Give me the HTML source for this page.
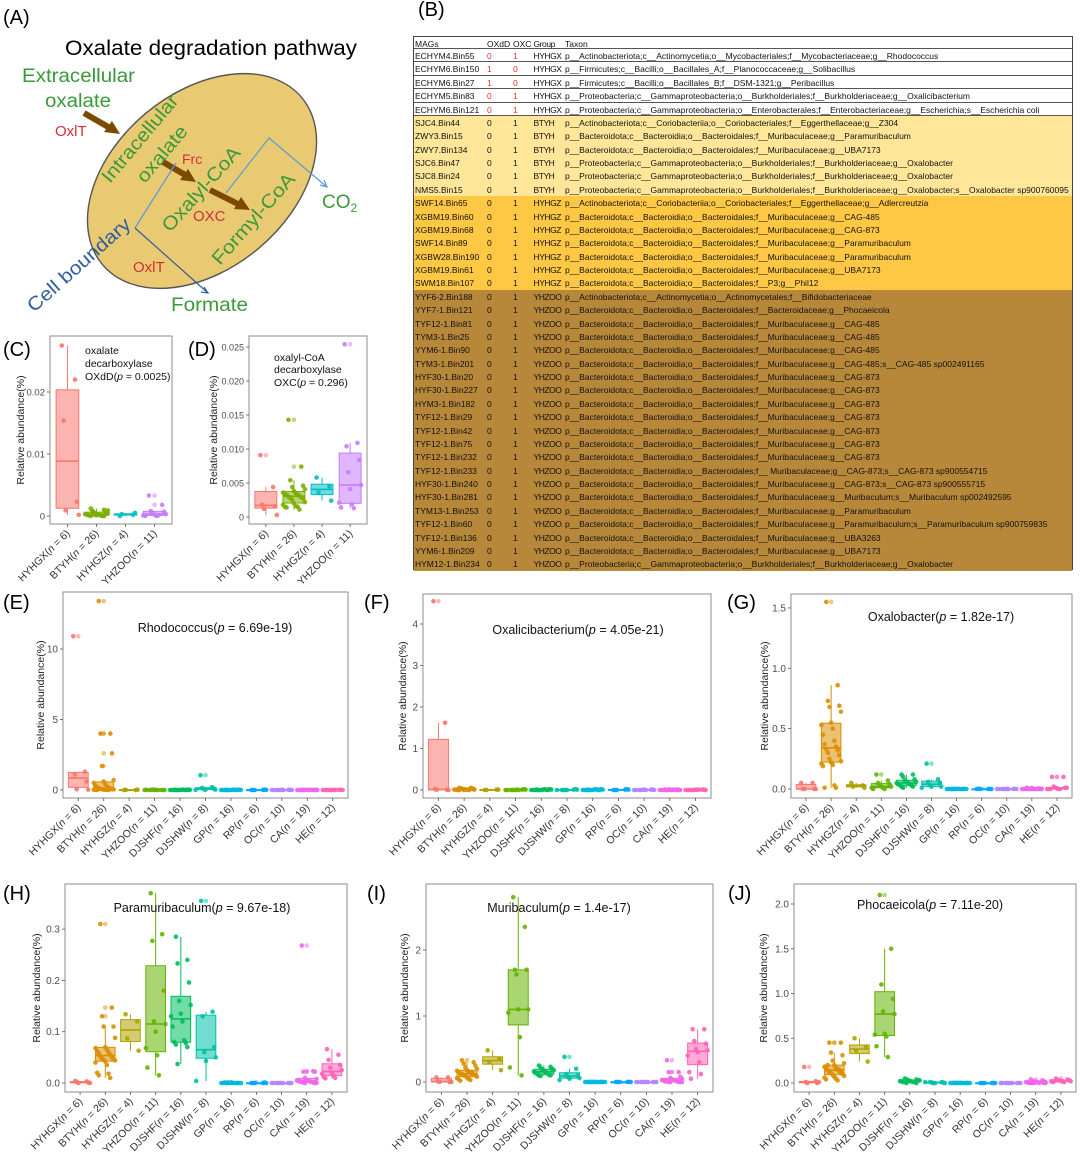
<!DOCTYPE html>
<html><head><meta charset="utf-8">
<style>
body{margin:0;background:#fff;font-family:"Liberation Sans",Arial,sans-serif;}
#root{position:relative;width:1080px;height:1168px;overflow:hidden;background:#fff;}
.plab{position:absolute;font-size:20px;color:#000;}
#tbl{position:absolute;left:413px;top:36px;width:660px;height:534px;border:1px solid #444;box-sizing:border-box;font-size:8.5px;color:#111;}
.r{position:relative;height:13.38px;white-space:nowrap;box-sizing:border-box;}
.r span{position:absolute;top:2px;line-height:10px;}
.c1{left:1px}.c2{left:73px}.c3{left:99px}.c4{left:119.5px;letter-spacing:-0.45px}.c5{left:151px}
.h{height:12px;border-bottom:1px solid #555;background:#fff}
.w{background:#fff;border-bottom:1px solid #555}
.w .c2,.w .c3{color:#f03030}
.y1{background:#FFE699}.y2{background:#FFC844}.y3{background:#B8883A}
.vl{position:absolute;top:0;width:1px;height:78px;background:#666;}
svg text{font-family:"Liberation Sans",Arial,sans-serif;}
</style></head><body>
<div id="root">

<svg id="diagA" width="412" height="330" style="position:absolute;left:0;top:0">
  <text x="3" y="24" font-size="20">(A)</text>
  <text x="65" y="55" font-size="21" textLength="292" lengthAdjust="spacingAndGlyphs">Oxalate degradation pathway</text>
  <ellipse cx="202" cy="181" rx="130" ry="88" transform="rotate(-40 202 181)" fill="#E9CA72" stroke="#555" stroke-width="1.4"/>
  <text x="22" y="82" font-size="19" fill="#3a9a3a" textLength="113" lengthAdjust="spacingAndGlyphs">Extracellular</text>
  <text x="45" y="107" font-size="19" fill="#3a9a3a" textLength="66" lengthAdjust="spacingAndGlyphs">oxalate</text>
  <text x="55" y="136" font-size="15" fill="#d0303a">OxlT</text>
  <g stroke="#7B4A00" stroke-width="6">
    <line x1="84" y1="113" x2="110" y2="128"/>
    <line x1="163" y1="162" x2="187" y2="176"/>
    <line x1="210" y1="190" x2="240" y2="205"/>
  </g>
  <g fill="#7B4A00">
    <polygon points="120,134 104,132 112,121"/>
    <polygon points="196,182 180,180 188,169"/>
    <polygon points="250,210 234,209 241,197"/>
  </g>
  <g fill="none" stroke-width="1.2">
    <polyline points="176,163 135,228" stroke="#5b9bd5"/>
    <polyline points="135,228 208,293" stroke="#2e5f99"/>
    <polyline points="204,287 208,293 201,292" stroke="#2e5f99"/>
    <polyline points="226,193 269,138 327,187" stroke="#5b9bd5"/>
    <polyline points="320,185 327,187 324,180" stroke="#5b9bd5"/>
  </g>
  <text x="110" y="184" font-size="19" fill="#3a9a3a" transform="rotate(-50 110 184)" textLength="108" lengthAdjust="spacingAndGlyphs">Intracellular</text>
  <text x="145" y="184" font-size="19" fill="#3a9a3a" transform="rotate(-50 145 184)" textLength="68" lengthAdjust="spacingAndGlyphs">oxalate</text>
  <text x="182" y="164" font-size="14" fill="#d0303a">Frc</text>
  <text x="170" y="233" font-size="19" fill="#3a9a3a" transform="rotate(-48 170 233)" textLength="107" lengthAdjust="spacingAndGlyphs">Oxalyl-CoA</text>
  <text x="193" y="221" font-size="15" fill="#d0303a">OXC</text>
  <text x="220" y="266" font-size="19" fill="#3a9a3a" transform="rotate(-48.5 220 266)" textLength="115" lengthAdjust="spacingAndGlyphs">Formyl-CoA</text>
  <text x="34" y="313" font-size="19" fill="#2e5f99" transform="rotate(-41.6 34 313)" textLength="131" lengthAdjust="spacingAndGlyphs">Cell boundary</text>
  <text x="133" y="272" font-size="15" fill="#d0303a">OxlT</text>
  <text x="171" y="311" font-size="19" fill="#3a9a3a" textLength="77" lengthAdjust="spacingAndGlyphs">Formate</text>
  <text x="322" y="208" font-size="19" fill="#3a9a3a">CO<tspan font-size="12" dy="4">2</tspan></text>
</svg>

<div class="plab" style="left:418px;top:-1px">(B)</div>
<div id="tbl">
 <div class="vl" style="left:71px"></div><div class="vl" style="left:97px"></div><div class="vl" style="left:118px"></div><div class="vl" style="left:149px"></div>
 <div class="r h"><span class="c1">MAGs</span><span class="c2">OXdD</span><span class="c3">OXC</span><span class="c4">Group</span><span class="c5">Taxon</span></div>
 <div class="r w"><span class="c1">ECHYM4.Bin55</span><span class="c2">0</span><span class="c3">1</span><span class="c4">HYHGX</span><span class="c5">p__Actinobacteriota;c__Actinomycetia;o__Mycobacteriales;f__Mycobacteriaceae;g__Rhodococcus</span></div>
 <div class="r w"><span class="c1">ECHYM6.Bin150</span><span class="c2">1</span><span class="c3">0</span><span class="c4">HYHGX</span><span class="c5">p__Firmicutes;c__Bacilli;o__Bacillales_A;f__Planococcaceae;g__Solibacillus</span></div>
 <div class="r w"><span class="c1">ECHYM6.Bin27</span><span class="c2">1</span><span class="c3">0</span><span class="c4">HYHGX</span><span class="c5">p__Firmicutes;c__Bacilli;o__Bacillales_B;f__DSM-1321;g__Peribacillus</span></div>
 <div class="r w"><span class="c1">ECHYM5.Bin83</span><span class="c2">0</span><span class="c3">1</span><span class="c4">HYHGX</span><span class="c5">p__Proteobacteria;c__Gammaproteobacteria;o__Burkholderiales;f__Burkholderiaceae;g__Oxalicibacterium</span></div>
 <div class="r w"><span class="c1">ECHYM6.Bin121</span><span class="c2">0</span><span class="c3">1</span><span class="c4">HYHGX</span><span class="c5">p__Proteobacteria;c__Gammaproteobacteria;o__Enterobacterales;f__Enterobacteriaceae;g__Escherichia;s__Escherichia coli</span></div>
 <div class="r y1"><span class="c1">SJC4.Bin44</span><span class="c2">0</span><span class="c3">1</span><span class="c4">BTYH</span><span class="c5">p__Actinobacteriota;c__Coriobacteriia;o__Coriobacteriales;f__Eggerthellaceae;g__Z304</span></div>
 <div class="r y1"><span class="c1">ZWY3.Bin15</span><span class="c2">0</span><span class="c3">1</span><span class="c4">BTYH</span><span class="c5">p__Bacteroidota;c__Bacteroidia;o__Bacteroidales;f__Muribaculaceae;g__Paramuribaculum</span></div>
 <div class="r y1"><span class="c1">ZWY7.Bin134</span><span class="c2">0</span><span class="c3">1</span><span class="c4">BTYH</span><span class="c5">p__Bacteroidota;c__Bacteroidia;o__Bacteroidales;f__Muribaculaceae;g__UBA7173</span></div>
 <div class="r y1"><span class="c1">SJC6.Bin47</span><span class="c2">0</span><span class="c3">1</span><span class="c4">BTYH</span><span class="c5">p__Proteobacteria;c__Gammaproteobacteria;o__Burkholderiales;f__Burkholderiaceae;g__Oxalobacter</span></div>
 <div class="r y1"><span class="c1">SJC8.Bin24</span><span class="c2">0</span><span class="c3">1</span><span class="c4">BTYH</span><span class="c5">p__Proteobacteria;c__Gammaproteobacteria;o__Burkholderiales;f__Burkholderiaceae;g__Oxalobacter</span></div>
 <div class="r y1"><span class="c1">NMS5.Bin15</span><span class="c2">0</span><span class="c3">1</span><span class="c4">BTYH</span><span class="c5">p__Proteobacteria;c__Gammaproteobacteria;o__Burkholderiales;f__Burkholderiaceae;g__Oxalobacter;s__Oxalobacter sp900760095</span></div>
 <div class="r y2"><span class="c1">SWF14.Bin65</span><span class="c2">0</span><span class="c3">1</span><span class="c4">HYHGZ</span><span class="c5">p__Actinobacteriota;c__Coriobacteriia;o__Coriobacteriales;f__Eggerthellaceae;g__Adlercreutzia</span></div>
 <div class="r y2"><span class="c1">XGBM19.Bin60</span><span class="c2">0</span><span class="c3">1</span><span class="c4">HYHGZ</span><span class="c5">p__Bacteroidota;c__Bacteroidia;o__Bacteroidales;f__Muribaculaceae;g__CAG-485</span></div>
 <div class="r y2"><span class="c1">XGBM19.Bin68</span><span class="c2">0</span><span class="c3">1</span><span class="c4">HYHGZ</span><span class="c5">p__Bacteroidota;c__Bacteroidia;o__Bacteroidales;f__Muribaculaceae;g__CAG-873</span></div>
 <div class="r y2"><span class="c1">SWF14.Bin89</span><span class="c2">0</span><span class="c3">1</span><span class="c4">HYHGZ</span><span class="c5">p__Bacteroidota;c__Bacteroidia;o__Bacteroidales;f__Muribaculaceae;g__Paramuribaculum</span></div>
 <div class="r y2"><span class="c1">XGBW28.Bin190</span><span class="c2">0</span><span class="c3">1</span><span class="c4">HYHGZ</span><span class="c5">p__Bacteroidota;c__Bacteroidia;o__Bacteroidales;f__Muribaculaceae;g__Paramuribaculum</span></div>
 <div class="r y2"><span class="c1">XGBM19.Bin61</span><span class="c2">0</span><span class="c3">1</span><span class="c4">HYHGZ</span><span class="c5">p__Bacteroidota;c__Bacteroidia;o__Bacteroidales;f__Muribaculaceae;g__UBA7173</span></div>
 <div class="r y2"><span class="c1">SWM18.Bin107</span><span class="c2">0</span><span class="c3">1</span><span class="c4">HYHGZ</span><span class="c5">p__Bacteroidota;c__Bacteroidia;o__Bacteroidales;f__P3;g__Phil12</span></div>
 <div class="r y3"><span class="c1">YYF6-2.Bin188</span><span class="c2">0</span><span class="c3">1</span><span class="c4">YHZOO</span><span class="c5">p__Actinobacteriota;c__Actinomycetia;o__Actinomycetales;f__Bifidobacteriaceae</span></div>
 <div class="r y3"><span class="c1">YYF7-1.Bin121</span><span class="c2">0</span><span class="c3">1</span><span class="c4">YHZOO</span><span class="c5">p__Bacteroidota;c__Bacteroidia;o__Bacteroidales;f__Bacteroidaceae;g__Phocaeicola</span></div>
 <div class="r y3"><span class="c1">TYF12-1.Bin81</span><span class="c2">0</span><span class="c3">1</span><span class="c4">YHZOO</span><span class="c5">p__Bacteroidota;c__Bacteroidia;o__Bacteroidales;f__Muribaculaceae;g__CAG-485</span></div>
 <div class="r y3"><span class="c1">TYM3-1.Bin25</span><span class="c2">0</span><span class="c3">1</span><span class="c4">YHZOO</span><span class="c5">p__Bacteroidota;c__Bacteroidia;o__Bacteroidales;f__Muribaculaceae;g__CAG-485</span></div>
 <div class="r y3"><span class="c1">YYM6-1.Bin90</span><span class="c2">0</span><span class="c3">1</span><span class="c4">YHZOO</span><span class="c5">p__Bacteroidota;c__Bacteroidia;o__Bacteroidales;f__Muribaculaceae;g__CAG-485</span></div>
 <div class="r y3"><span class="c1">TYM3-1.Bin201</span><span class="c2">0</span><span class="c3">1</span><span class="c4">YHZOO</span><span class="c5">p__Bacteroidota;c__Bacteroidia;o__Bacteroidales;f__Muribaculaceae;g__CAG-485;s__CAG-485 sp002491165</span></div>
 <div class="r y3"><span class="c1">HYF30-1.Bin20</span><span class="c2">0</span><span class="c3">1</span><span class="c4">YHZOO</span><span class="c5">p__Bacteroidota;c__Bacteroidia;o__Bacteroidales;f__Muribaculaceae;g__CAG-873</span></div>
 <div class="r y3"><span class="c1">HYF30-1.Bin227</span><span class="c2">0</span><span class="c3">1</span><span class="c4">YHZOO</span><span class="c5">p__Bacteroidota;c__Bacteroidia;o__Bacteroidales;f__Muribaculaceae;g__CAG-873</span></div>
 <div class="r y3"><span class="c1">HYM3-1.Bin182</span><span class="c2">0</span><span class="c3">1</span><span class="c4">YHZOO</span><span class="c5">p__Bacteroidota;c__Bacteroidia;o__Bacteroidales;f__Muribaculaceae;g__CAG-873</span></div>
 <div class="r y3"><span class="c1">TYF12-1.Bin29</span><span class="c2">0</span><span class="c3">1</span><span class="c4">YHZOO</span><span class="c5">p__Bacteroidota;c__Bacteroidia;o__Bacteroidales;f__Muribaculaceae;g__CAG-873</span></div>
 <div class="r y3"><span class="c1">TYF12-1.Bin42</span><span class="c2">0</span><span class="c3">1</span><span class="c4">YHZOO</span><span class="c5">p__Bacteroidota;c__Bacteroidia;o__Bacteroidales;f__Muribaculaceae;g__CAG-873</span></div>
 <div class="r y3"><span class="c1">TYF12-1.Bin75</span><span class="c2">0</span><span class="c3">1</span><span class="c4">YHZOO</span><span class="c5">p__Bacteroidota;c__Bacteroidia;o__Bacteroidales;f__Muribaculaceae;g__CAG-873</span></div>
 <div class="r y3"><span class="c1">TYF12-1.Bin232</span><span class="c2">0</span><span class="c3">1</span><span class="c4">YHZOO</span><span class="c5">p__Bacteroidota;c__Bacteroidia;o__Bacteroidales;f__Muribaculaceae;g__CAG-873</span></div>
 <div class="r y3"><span class="c1">TYF12-1.Bin233</span><span class="c2">0</span><span class="c3">1</span><span class="c4">YHZOO</span><span class="c5">p__Bacteroidota;c__Bacteroidia;o__Bacteroidales;f__ Muribaculaceae;g__CAG-873;s__CAG-873 sp900554715</span></div>
 <div class="r y3"><span class="c1">HYF30-1.Bin240</span><span class="c2">0</span><span class="c3">1</span><span class="c4">YHZOO</span><span class="c5">p__Bacteroidota;c__Bacteroidia;o__Bacteroidales;f__Muribaculaceae;g__CAG-873;s__CAG-873 sp900555715</span></div>
 <div class="r y3"><span class="c1">HYF30-1.Bin281</span><span class="c2">0</span><span class="c3">1</span><span class="c4">YHZOO</span><span class="c5">p__Bacteroidota;c__Bacteroidia;o__Bacteroidales;f__Muribaculaceae;g__Muribaculum;s__Muribaculum sp002492595</span></div>
 <div class="r y3"><span class="c1">TYM13-1.Bin253</span><span class="c2">0</span><span class="c3">1</span><span class="c4">YHZOO</span><span class="c5">p__Bacteroidota;c__Bacteroidia;o__Bacteroidales;f__Muribaculaceae;g__Paramuribaculum</span></div>
 <div class="r y3"><span class="c1">TYF12-1.Bin60</span><span class="c2">0</span><span class="c3">1</span><span class="c4">YHZOO</span><span class="c5">p__Bacteroidota;c__Bacteroidia;o__Bacteroidales;f__Muribaculaceae;g__Paramuribaculum;s__Paramuribaculum  sp900759835</span></div>
 <div class="r y3"><span class="c1">TYF12-1.Bin136</span><span class="c2">0</span><span class="c3">1</span><span class="c4">YHZOO</span><span class="c5">p__Bacteroidota;c__Bacteroidia;o__Bacteroidales;f__Muribaculaceae;g__UBA3263</span></div>
 <div class="r y3"><span class="c1">YYM6-1.Bin209</span><span class="c2">0</span><span class="c3">1</span><span class="c4">YHZOO</span><span class="c5">p__Bacteroidota;c__Bacteroidia;o__Bacteroidales;f__Muribaculaceae;g__UBA7173</span></div>
 <div class="r y3"><span class="c1">HYM12-1.Bin234</span><span class="c2">0</span><span class="c3">1</span><span class="c4">YHZOO</span><span class="c5">p__Proteobacteria;c__Gammaproteobacteria;o__Burkholderiales;f__Burkholderiaceae;g__Oxalobacter</span></div>
</div>

<svg id="charts" width="1080" height="1168" style="position:absolute;left:0;top:0;pointer-events:none"></svg>
</div>

<script>
// ---------- data ----------
const groups4 = ["HYHGX","BTYH","HYHGZ","YHZOO"];
const n4 = [6,26,4,11];
const groups11 = ["HYHGX","BTYH","HYHGZ","YHZOO","DJSHF","DJSHW","GP","RP","OC","CA","HE"];
const n11 = [6,26,4,11,16,8,16,6,10,19,12];
const colors4 = ["#F8766D","#7CAE00","#00BFC4","#C77CFF"];
const colors11 = ["#F8766D","#DB8E00","#AEA200","#64B200","#00BD5C","#00C1A7","#00BADE","#00A6FF","#B385FF","#EF67EB","#FF63B6"];

const valuesC = [
 [0.0275,0.022,0.0154,0.0023,0.0009,0.0002],
 [0.0012,0.001,0.0008,0.0006,0.0005,0.0004,0.0003,0.0003,0.0002,0.0002,0.0001,0.0001,0,0,0,0.0007,0.0004,0.0002,0.0009,0.0001],
 [0,0.0002,0.0003,0.0005],
 [0.0033,0.0018,0.0008,0.0007,0.0005,0.0003,0.0002,0.0001,0,0,0.0001]
];
const ticksC = [0,0.01,0.02];
const tickLabelsC = ["0","0.01","0.02"];

const valuesD = [
 [0.0091,0.0044,0.0018,0.0016,0.0012,0.0003],
 [0.0143,0.0074,0.0054,0.0046,0.0044,0.0041,0.0038,0.0036,0.0035,0.0034,0.0033,0.0032,0.0031,0.003,0.0029,0.0028,0.0027,0.0025,0.0022,0.002,0.0018,0.0016,0.0015,0.0015,0.0014,0.0011],
 [0.0058,0.0045,0.0036,0.0024],
 [0.0254,0.0109,0.0104,0.0084,0.0066,0.0047,0.0041,0.0021,0.0019,0.0014,0.0013]
];
const ticksD = [0,0.005,0.01,0.015,0.02,0.025];
const tickLabelsD = ["0","0.005","0.010","0.015","0.020","0.025"];

const valuesE = [
 [10.9,1.3,1.1,0.6,0.05,0.03],
 [13.4,4.0,4.0,2.6,1.7,0.7,0.6,0.5,0.4,0.3,0.25,0.2,0.15,0.1,0.1,0.08,0.06,0.05,0.04,0.03,0.02,0.02,0.01,0.01,0,0],
 [0,0,0.01,0.02],
 [0,0,0.01,0,0.02,0,0.01,0,0,0.01,0],
 [0,0.01,0,0.02,0,0.01,0,0,0.01,0,0.02,0,0,0.01,0,0],
 [1.05,0.2,0.15,0.1,0.05,0.03,0.02,0.01],
 [0,0.01,0,0.02,0,0.01,0,0,0.01,0,0.02,0,0,0.01,0,0],
 [0,0.01,0,0.02,0,0.01],
 [0,0.01,0,0.01,0,0,0.01,0,0,0],
 [0,0.01,0,0.01,0,0,0.01,0,0,0,0.01,0,0,0.01,0,0,0,0.01,0],
 [0,0.01,0,0.01,0,0,0.01,0,0,0,0.01,0]
];
const ticksE = [0,5,10];
const tickLabelsE = ["0","5","10"];

const valuesF = [
 [4.55,1.62,0.02,0.01,0.005,0],
 [0.05,0.04,0.03,0.03,0.02,0.02,0.02,0.01,0.01,0.01,0.01,0,0,0,0.05,0.04,0.03,0.02,0.01,0],
 [0,0.01,0,0.01],
 [0,0.01,0,0.02,0,0.01,0,0,0.01,0,0],
 [0,0.01,0,0.02,0,0.01,0,0,0.01,0,0.02,0,0,0.01,0,0],
 [0,0.01,0,0.02,0,0.01,0,0],
 [0,0.01,0,0.02,0,0.01,0,0,0.01,0,0.02,0,0,0.01,0,0],
 [0,0.01,0,0.02,0,0.01],
 [0,0.01,0,0.01,0,0,0.01,0,0,0],
 [0,0.01,0,0.01,0,0,0.01,0,0,0,0.01,0,0,0.01,0,0,0,0.01,0],
 [0,0.01,0,0.01,0,0,0.01,0,0,0,0.01,0]
];
const ticksF = [0,1,2,3,4];
const tickLabelsF = ["0","1","2","3","4"];

const valuesG = [
 [0.05,0.05,0,0,0,0],
 [1.55,0.86,0.73,0.69,0.68,0.64,0.55,0.53,0.5,0.45,0.4,0.37,0.35,0.33,0.32,0.3,0.28,0.25,0.23,0.22,0.21,0.2,0.19,0.03,0.01,0.01],
 [0.05,0.03,0.02,0.01],
 [0.12,0.07,0.05,0.04,0.03,0.02,0.02,0.01,0.01,0,0],
 [0.12,0.12,0.1,0.08,0.07,0.06,0.06,0.05,0.05,0.04,0.04,0.03,0.03,0.02,0.02,0.01],
 [0.21,0.08,0.06,0.05,0.03,0.02,0.02,0.01],
 [0,0,0,0.001,0,0,0,0,0.001,0,0,0,0,0,0,0],
 [0,0,0.001,0,0,0],
 [0,0,0,0.001,0,0,0,0,0,0],
 [0.01,0.005,0.004,0.003,0.002,0.001,0,0,0,0,0,0,0,0.001,0,0,0,0,0],
 [0.1,0.1,0.02,0.01,0.01,0.01,0.005,0,0,0,0,0]
];
const ticksG = [0,0.5,1,1.5];
const tickLabelsG = ["0.0","0.5","1.0","1.5"];

const valuesH = [
 [0.004,0.003,0.002,0.001,0,0],
 [0.31,0.147,0.13,0.11,0.11,0.088,0.07,0.068,0.065,0.062,0.06,0.058,0.055,0.052,0.05,0.048,0.046,0.045,0.044,0.042,0.04,0.035,0.02,0.018,0.015,0.01],
 [0.134,0.12,0.087,0.063],
 [0.37,0.29,0.277,0.18,0.12,0.115,0.1,0.068,0.054,0.03,0.015],
 [0.285,0.24,0.233,0.196,0.16,0.152,0.135,0.13,0.12,0.11,0.083,0.08,0.078,0.075,0.07,0.037],
 [0.355,0.139,0.13,0.07,0.06,0.05,0.043,0.004],
 [0,0,0.001,0,0,0,0.001,0,0,0,0,0.001,0,0,0,0],
 [0,0,0,0.001,0,0],
 [0,0,0,0,0,0,0,0,0,0],
 [0.268,0.023,0.022,0.022,0.01,0.008,0.006,0.005,0.005,0.004,0.003,0.003,0.002,0.002,0.001,0.001,0,0,0],
 [0.066,0.055,0.045,0.035,0.03,0.025,0.02,0.018,0.015,0.012,0.01,0.009]
];
const ticksH = [0,0.1,0.2,0.3];
const tickLabelsH = ["0.0","0.1","0.2","0.3"];

const valuesI = [
 [0.07,0.07,0.01,0,0,0],
 [0.33,0.3,0.28,0.25,0.22,0.2,0.18,0.17,0.16,0.15,0.14,0.13,0.12,0.12,0.11,0.1,0.1,0.09,0.08,0.07,0.06,0.05,0.04,0.03,0.02,0.15],
 [0.48,0.35,0.3,0.18],
 [2.8,2.35,1.7,1.7,1.63,1.1,1.1,1.05,0.68,0.22,0.1],
 [0.25,0.23,0.22,0.2,0.19,0.18,0.17,0.16,0.15,0.14,0.13,0.12,0.11,0.1,0.1,0.09],
 [0.38,0.2,0.12,0.1,0.08,0.06,0.05,0.03],
 [0,0,0.001,0,0,0,0.001,0,0,0,0,0.001,0,0,0,0],
 [0,0,0,0.001,0,0],
 [0,0,0,0,0,0,0,0,0,0],
 [0.33,0.15,0.15,0.08,0.06,0.05,0.04,0.03,0.03,0.02,0.02,0.01,0.01,0.01,0,0,0,0,0],
 [0.8,0.8,0.62,0.58,0.5,0.48,0.45,0.4,0.3,0.15,0.12,0.05]
];
const ticksI = [0,1,2];
const tickLabelsI = ["0","1","2"];

const valuesJ = [
 [0.18,0.02,0.01,0,0,0.01],
 [0.45,0.45,0.34,0.31,0.25,0.22,0.2,0.18,0.17,0.16,0.15,0.14,0.13,0.12,0.12,0.11,0.1,0.09,0.08,0.07,0.06,0.05,0.04,0.03,0.2,0.15],
 [0.5,0.4,0.36,0.24],
 [2.1,1.5,1.1,0.94,0.8,0.77,0.55,0.54,0.52,0.41,0.29],
 [0.05,0.04,0.04,0.03,0.03,0.03,0.02,0.02,0.02,0.02,0.01,0.01,0.01,0.01,0,0],
 [0.01,0.01,0.005,0.005,0,0,0,0.01],
 [0,0,0.001,0,0,0,0.001,0,0,0,0,0.001,0,0,0,0],
 [0,0,0,0.001,0,0],
 [0,0,0,0,0,0,0,0,0,0],
 [0.04,0.03,0.02,0.02,0.02,0.01,0.01,0.01,0.01,0.01,0,0,0.01,0,0.01,0,0,0,0],
 [0.05,0.04,0.03,0.03,0.03,0.02,0.02,0.02,0.02,0.01,0.01,0.02]
];
const ticksJ = [0,0.5,1,1.5,2];
const tickLabelsJ = ["0.0","0.5","1.0","1.5","2.0"];

// ---------- drawing ----------
const NS = "http://www.w3.org/2000/svg";
const svg = document.getElementById("charts");
function mk(tag, attrs, parent){
  const e = document.createElementNS(NS, tag);
  for (const k in attrs) e.setAttribute(k, attrs[k]);
  parent.appendChild(e);
  return e;
}
function quant(s, p){
  const h = (s.length-1)*p, lo = Math.floor(h), hi = Math.ceil(h);
  return s[lo] + (s[hi]-s[lo])*(h-lo);
}
function panel(cfg, groups, ns, values, ticks, tickLabels, colors){
  const g = mk("g", {}, svg);
  
  
  const yS = v => cfg.y0 - v*cfg.k;
  const n = groups.length;
  const step = (cfg.R - cfg.L)/(n + 0.2);
  const xS = i => cfg.L + (i + 0.6)*step;
  const bw = step*0.78;
  const fr = mk("rect", {x:cfg.L, y:cfg.T, width:cfg.R-cfg.L, height:cfg.B-cfg.T, fill:"none", stroke:"#8c8c8c", "stroke-width":1}, g);
  
  
  ticks.forEach((t, j) => {
    const y = yS(t);
    const tk = mk("line", {x1:cfg.L-3, x2:cfg.L, y1:y, y2:y, stroke:"#555", "stroke-width":0.8}, g);
    
    
    const tl = mk("text", {x:cfg.L-5, y:y+3.5, "text-anchor":"end", "font-size":cfg.tfs||10, fill:"#4d4d4d"}, g);
    
    
    tl.textContent = tickLabels[j];
  });
  const yt = mk("text", {x:cfg.ytx, y:(cfg.T+cfg.B)/2, "text-anchor":"middle", "font-size":10.5, fill:"#222", transform:`rotate(-90 ${cfg.ytx} ${(cfg.T+cfg.B)/2})`}, g);
  
  
  yt.textContent = "Relative abundance(%)";
  groups.forEach((gn, i) => {
    const x = xS(i), col = colors[i];
    const tk = mk("line", {x1:x, x2:x, y1:cfg.B, y2:cfg.B+3, stroke:"#555", "stroke-width":0.8}, g);
    
    
    const lx = x+3, ly = cfg.B+10;
    const xl = mk("text", {x:lx, y:ly, "text-anchor":"end", "font-size":10.5, fill:"#333", transform:`rotate(-45 ${lx} ${ly})`}, g);
    
    
    xl.innerHTML = gn + '(<tspan font-style="italic">n</tspan> = ' + ns[i] + ')';
    const s = values[i].slice().sort((a,b)=>a-b);
    const q1 = quant(s,0.25), md = quant(s,0.5), q3 = quant(s,0.75), iqr = q3-q1;
    const inl = s.filter(v => v >= q1-1.5*iqr && v <= q3+1.5*iqr);
    const wlo = inl[0], whi = inl[inl.length-1];
    const bg = mk("g", {}, g);
    
    
    const w1 = mk("line", {x1:x, x2:x, y1:yS(q3), y2:yS(whi), stroke:col, "stroke-width":1}, bg);
    
    
    const w2 = mk("line", {x1:x, x2:x, y1:yS(q1), y2:yS(wlo), stroke:col, "stroke-width":1}, bg);
    
    
    const bx = mk("rect", {x:x-bw/2, y:yS(q3), width:bw, height:Math.max(yS(q1)-yS(q3),0.8), fill:col, "fill-opacity":0.55, stroke:col, "stroke-width":1}, bg);
    
    
    const ml = mk("line", {x1:x-bw/2, x2:x+bw/2, y1:yS(md), y2:yS(md), stroke:col, "stroke-width":1.6}, bg);
    
    
    s.forEach(v => {
      if (v < wlo || v > whi){
        const o = mk("circle", {cx:x, cy:yS(v), r:2.3, fill:col, "fill-opacity":0.5}, bg);
        
        
      }
    });
    values[i].forEach((v, k) => {
      const off = (((k*7+3)%13)/12 - 0.5) * bw;
      const p = mk("circle", {cx:x+off, cy:yS(v), r:2.3, fill:col, "fill-opacity":0.9}, bg);
      
      
    });
  });
  if (cfg.title){
    const tt = mk("text", {x:cfg.tx, y:cfg.ty, "text-anchor":"middle", "font-size":12.5, fill:"#111"}, g);
    
    
    tt.innerHTML = cfg.title;
  }
  const pl = mk("text", {x:cfg.px, y:cfg.py, "font-size":20, fill:"#000"}, g);
  
  
  pl.textContent = cfg.plabel;
}
const P = '<tspan font-style="italic">p</tspan>';
panel({name:"panel-c-oxdd",L:50,R:172,T:336,B:524,y0:516,k:6200,ytx:24,px:3,py:356,plabel:"(C)",tfs:9.5}, groups4, n4, valuesC, ticksC, tickLabelsC, colors4);
panel({name:"panel-d-oxc",L:249,R:367,T:336,B:524,y0:517,k:6800,ytx:217,px:188,py:356,plabel:"(D)",tfs:9}, groups4, n4, valuesD, ticksD, tickLabelsD, colors4);
panel({name:"panel-e-rhodococcus",L:63,R:348,T:592,B:798,y0:790,k:14.1,ytx:44,px:3,py:609,plabel:"(E)",title:"Rhodococcus("+P+" = 6.69e-19)",tx:215,ty:632}, groups11, n11, valuesE, ticksE, tickLabelsE, colors11);
panel({name:"panel-f-oxalicibacterium",L:423,R:711,T:594,B:798,y0:790,k:41.5,ytx:406,px:364,py:609,plabel:"(F)",title:"Oxalicibacterium("+P+" = 4.05e-21)",tx:578,ty:634}, groups11, n11, valuesF, ticksF, tickLabelsF, colors11);
panel({name:"panel-g-oxalobacter",L:791,R:1072,T:594,B:798,y0:789,k:120.7,ytx:768,px:727,py:609,plabel:"(G)",title:"Oxalobacter("+P+" = 1.82e-17)",tx:941,ty:621}, groups11, n11, valuesG, ticksG, tickLabelsG, colors11);
panel({name:"panel-h-paramuribaculum",L:65,R:347,T:884,B:1092,y0:1083,k:513,ytx:40,px:3,py:900,plabel:"(H)",title:"Paramuribaculum("+P+" = 9.67e-18)",tx:202,ty:912}, groups11, n11, valuesH, ticksH, tickLabelsH, colors11);
panel({name:"panel-i-muribaculum",L:426,R:713,T:884,B:1092,y0:1082,k:66,ytx:408,px:367,py:900,plabel:"(I)",title:"Muribaculum("+P+" = 1.4e-17)",tx:559,ty:912}, groups11, n11, valuesI, ticksI, tickLabelsI, colors11);
panel({name:"panel-j-phocaeicola",L:794,R:1076,T:884,B:1092,y0:1083,k:89.5,ytx:767,px:728,py:900,plabel:"(J)",title:"Phocaeicola("+P+" = 7.11e-20)",tx:930,ty:909}, groups11, n11, valuesJ, ticksJ, tickLabelsJ, colors11);

const ann = [
 {x:85,y:354,t:"oxalate"},{x:85,y:367,t:"decarboxylase"},{x:85,y:380,t:"OXdD("+P+" = 0.0025)"},
 {x:274,y:361,t:"oxalyl-CoA"},{x:274,y:373,t:"decarboxylase"},{x:274,y:386,t:"OXC("+P+" = 0.296)"}
];
ann.forEach(a => {
  const t = mk("text", {x:a.x, y:a.y, "font-size":10.5, fill:"#111"}, svg);
  
  
  t.innerHTML = a.t;
});
</script>
</body></html>
